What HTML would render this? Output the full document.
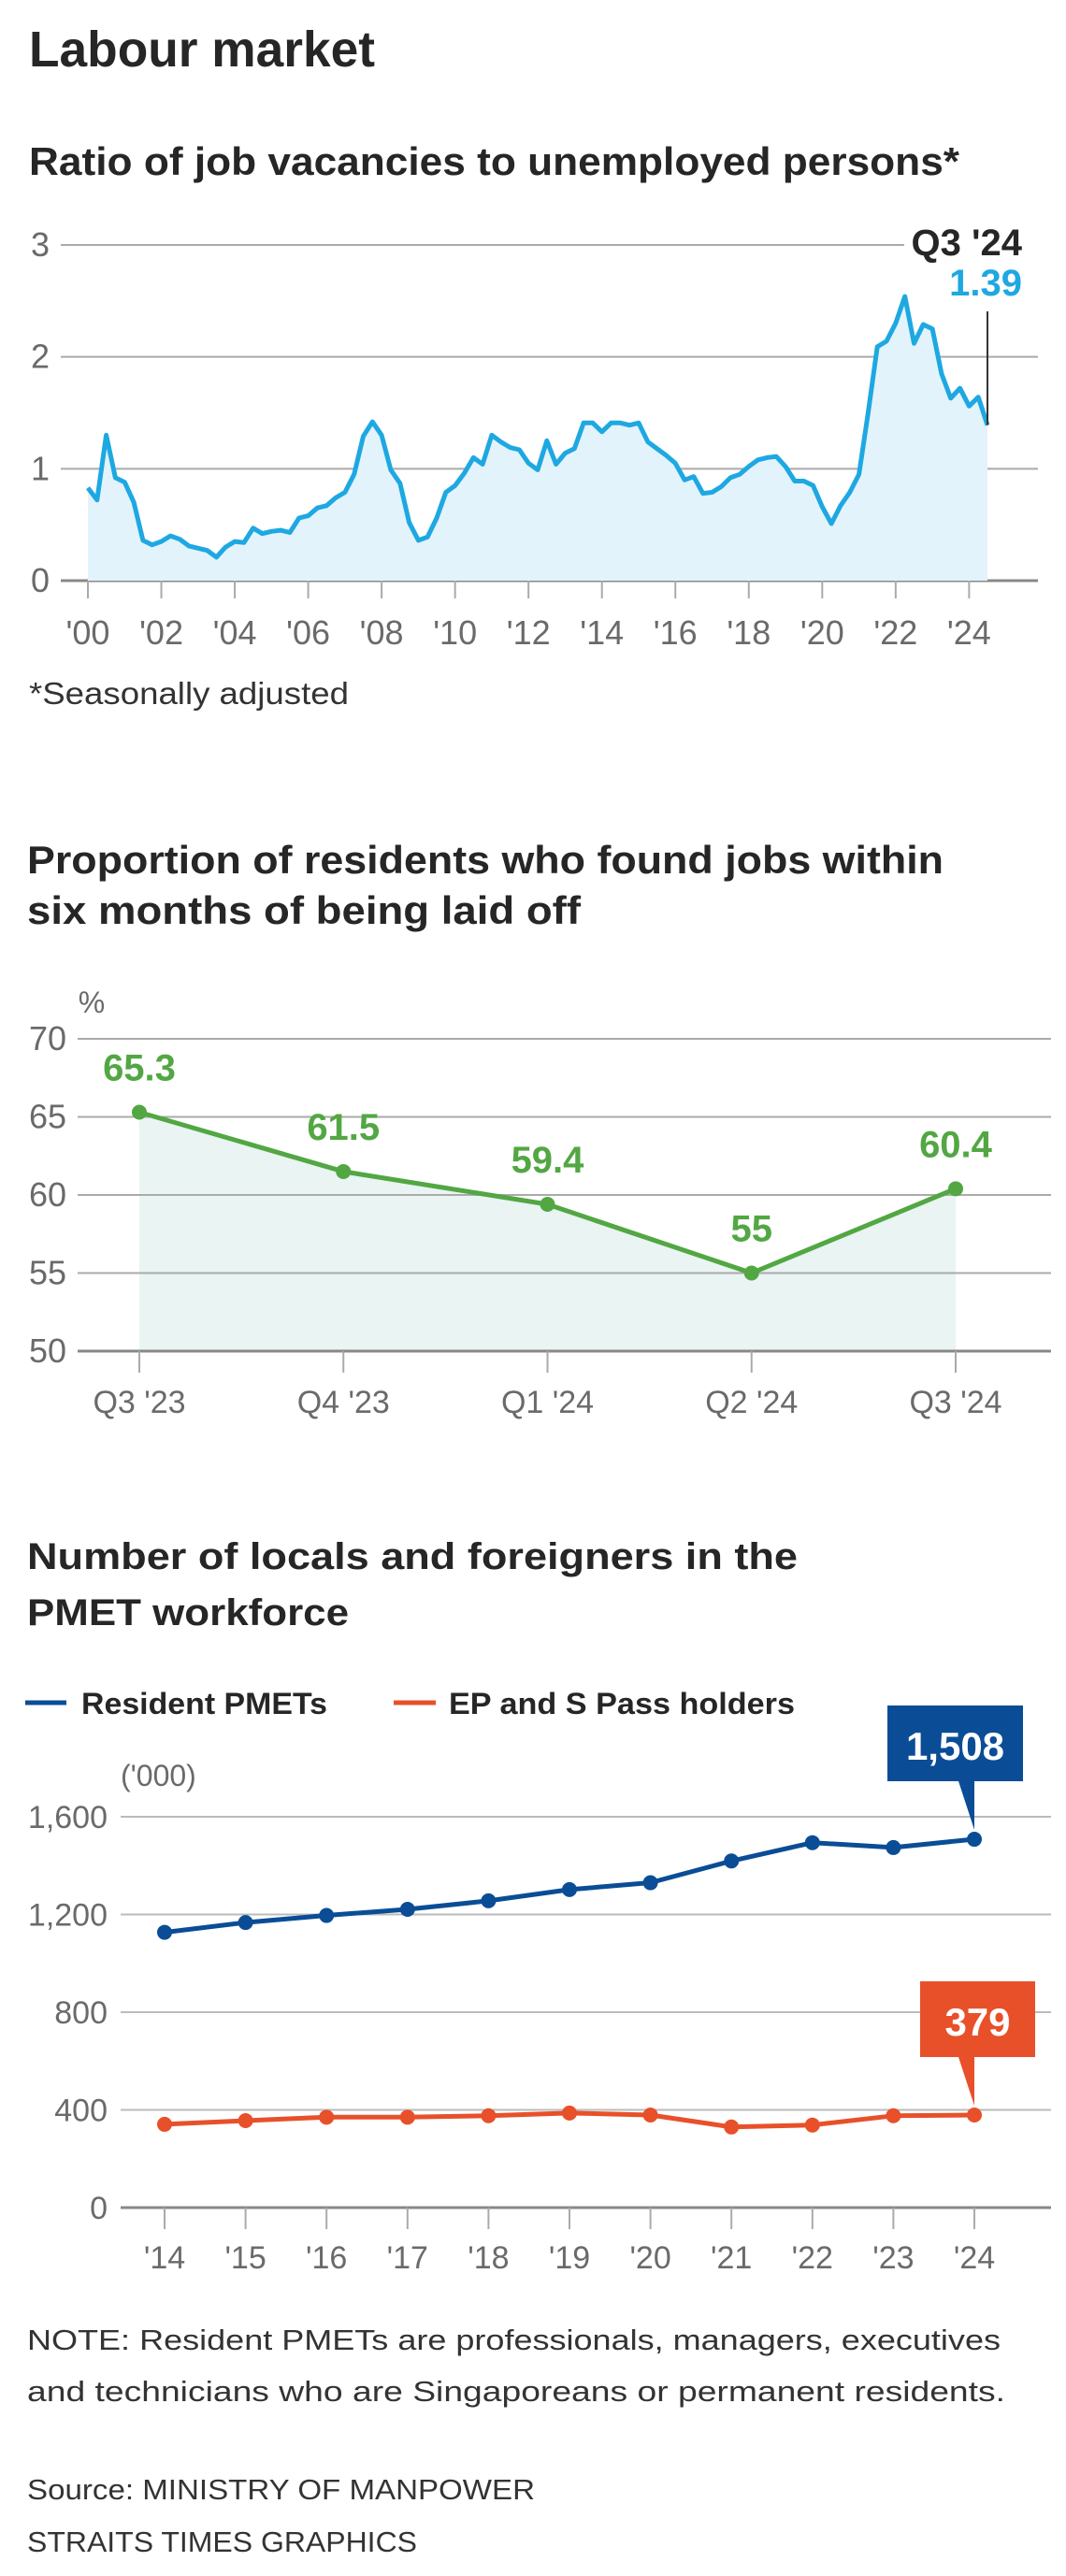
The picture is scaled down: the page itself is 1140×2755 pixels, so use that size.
<!DOCTYPE html>
<html><head><meta charset="utf-8"><style>
html,body{margin:0;padding:0;background:#fff;}
svg{display:block;}
.h{font-family:"Liberation Sans Narrow","Liberation Sans",sans-serif;font-weight:bold;fill:#262626;}
.ax{font-family:"Liberation Sans Narrow","Liberation Sans",sans-serif;fill:#6a6a6a;}
.tx{font-family:"Liberation Sans",sans-serif;fill:#333;}
</style></head><body>
<svg id="root" width="1140" height="2755" viewBox="0 0 1140 2755" xmlns="http://www.w3.org/2000/svg">
<text class="h" x="31" y="71" font-size="54" textLength="370" lengthAdjust="spacingAndGlyphs">Labour market</text>
<text class="h" x="31" y="187" font-size="42" textLength="995" lengthAdjust="spacingAndGlyphs">Ratio of job vacancies to unemployed persons*</text>
<g id="c1"></g>
<text class="tx" x="31" y="753" font-size="33" textLength="342" lengthAdjust="spacingAndGlyphs">*Seasonally adjusted</text>

<text class="h" x="29" y="934" font-size="42" textLength="980" lengthAdjust="spacingAndGlyphs">Proportion of residents who found jobs within</text>
<text class="h" x="29" y="988" font-size="42" textLength="592" lengthAdjust="spacingAndGlyphs">six months of being laid off</text>
<g id="c2"></g>

<text class="h" x="29" y="1678" font-size="40" textLength="824" lengthAdjust="spacingAndGlyphs" style="font-family:'Liberation Sans',sans-serif">Number of locals and foreigners in the</text>
<text class="h" x="29" y="1738" font-size="40" textLength="344" lengthAdjust="spacingAndGlyphs" style="font-family:'Liberation Sans',sans-serif">PMET workforce</text>
<g>
<line x1="27" y1="1821" x2="71" y2="1821" stroke="#0a4d96" stroke-width="5"/>
<text class="h" x="87" y="1833" font-size="32" textLength="263" lengthAdjust="spacingAndGlyphs" style="font-family:'Liberation Sans',sans-serif">Resident PMETs</text>
<line x1="421" y1="1821" x2="466" y2="1821" stroke="#e8502a" stroke-width="5"/>
<text class="h" x="480" y="1833" font-size="32" textLength="370" lengthAdjust="spacingAndGlyphs" style="font-family:'Liberation Sans',sans-serif">EP and S Pass holders</text>
</g>
<g id="c3"></g>

<text class="tx" x="29" y="2513" font-size="31" textLength="1041" lengthAdjust="spacingAndGlyphs">NOTE: Resident PMETs are professionals, managers, executives</text>
<text class="tx" x="29" y="2568" font-size="31" textLength="1046" lengthAdjust="spacingAndGlyphs">and technicians who are Singaporeans or permanent residents.</text>
<text class="tx" x="29" y="2673" font-size="31" textLength="543" lengthAdjust="spacingAndGlyphs">Source: MINISTRY OF MANPOWER</text>
<text class="tx" x="29" y="2729" font-size="31" textLength="417" lengthAdjust="spacingAndGlyphs">STRAITS TIMES GRAPHICS</text>
</svg>
<script>
// ---- Chart 1 data (quarterly, 2000Q1 - 2024Q3)
const ratioValues = [0.83,0.72,1.30,0.92, 0.88,0.70,0.36,0.32, 0.35,0.40,0.37,0.31, 0.29,0.27,0.21,0.30,
 0.35,0.34,0.47,0.42, 0.44,0.45,0.43,0.56, 0.58,0.65,0.67,0.74, 0.79,0.95,1.29,1.42,
 1.30,0.99,0.87,0.52, 0.36,0.39,0.56,0.79, 0.85,0.96,1.10,1.04, 1.30,1.24,1.19,1.17,
 1.05,0.99,1.25,1.04, 1.14,1.18,1.41,1.41, 1.33,1.41,1.41,1.39, 1.41,1.24,1.18,1.12,
 1.05,0.90,0.93,0.78, 0.79,0.84,0.92,0.95, 1.02,1.08,1.10,1.11, 1.02,0.89,0.89,0.85,
 0.66,0.51,0.67,0.79, 0.95,1.50,2.09,2.14, 2.30,2.54,2.12,2.29, 2.25,1.85,1.63,1.72,
 1.56,1.64,1.39];
const ratioYTicks = [0,1,2,3];
const ratioXTickLabels = ["'00","'02","'04","'06","'08","'10","'12","'14","'16","'18","'20","'22","'24"];
const ratioLatestLabel = "Q3 '24";
const ratioLatestValue = "1.39";

// ---- Chart 2 data
const quarterCats = ["Q3 '23","Q4 '23","Q1 '24","Q2 '24","Q3 '24"];
const reemployValues = [65.3,61.5,59.4,55,60.4];
const reemployYTicks = [50,55,60,65,70];

// ---- Chart 3 data
const yearCats = ["'14","'15","'16","'17","'18","'19","'20","'21","'22","'23","'24"];
const residentValues = [1127,1167,1196,1221,1256,1302,1330,1419,1494,1474,1508];
const epValues = [341,356,370,370,376,387,379,330,338,376,379];
const workforceYTicks = [0,400,800,1200,1600];
const workforceYTickLabels = ["0","400","800","1,200","1,600"];

const NS="http://www.w3.org/2000/svg";
function mk(parent,tag,attrs,text){const e=document.createElementNS(NS,tag);for(const k in attrs)e.setAttribute(k,attrs[k]);if(text!==undefined)e.textContent=text;parent.appendChild(e);return e;}

// ---------- Chart 1
(function(){
 const g=document.getElementById('c1');
 const x=i=>94+i*(1056-94)/98;
 const y=v=>621-v*(621-262)/3;
 ratioYTicks.forEach(t=>{
  const ln=mk(g,'line',{x1:65,x2:t===3?967:1110,y1:y(t),y2:y(t),stroke:t===0?'#888':'#aaa','stroke-width':t===0?3:2});
  
  
  const tl=mk(g,'text',{x:43,y:y(t)+12,'font-size':36,'text-anchor':'middle',class:'ax'},String(t));
  
  
 });
 ratioXTickLabels.forEach((lab,k)=>{
  const xx=x(k*8);
  const tk=mk(g,'line',{x1:xx,x2:xx,y1:621,y2:640,stroke:'#aaa','stroke-width':2});
  
  
  const tl=mk(g,'text',{x:xx,y:689,'font-size':36,'text-anchor':'middle',class:'ax'},lab);
  
  
 });
 let d='';ratioValues.forEach((v,i)=>{d+=(i?'L':'M')+x(i).toFixed(1)+','+y(v).toFixed(1);});
 const area=mk(g,'path',{d:d+'L'+x(ratioValues.length-1)+','+y(0)+'L'+x(0)+','+y(0)+'Z',fill:'#e3f3fb'});
 
 
 // redraw gridlines 1,2 lightly over area
 const ln=mk(g,'path',{d:d,fill:'none',stroke:'#1ea8e2','stroke-width':5,'stroke-linejoin':'round'});
 
 
 const li=ratioValues.length-1;
 const ld=mk(g,'line',{x1:x(li),x2:x(li),y1:333,y2:y(ratioValues[li]),stroke:'#333','stroke-width':2});
 
 
 const a=mk(g,'text',{x:1093,y:273,'font-size':40,'text-anchor':'end',class:'h',fill:'#1a1a1a'},ratioLatestLabel);
 
 
 const b=mk(g,'text',{x:1093,y:316,'font-size':40,'text-anchor':'end',class:'h',style:'fill:#1ea8e2'},ratioLatestValue);
 
 
})();

// ---------- Chart 2
(function(){
 const g=document.getElementById('c2');
 const x=i=>149+i*(1022-149)/4;
 const y=v=>1445-(v-50)*(1445-1111)/20;
 const pc=mk(g,'text',{x:98,y:1083,'font-size':32,'text-anchor':'middle',class:'ax'},'%');
 
 
 let d='';reemployValues.forEach((v,i)=>{d+=(i?'L':'M')+x(i)+','+y(v);});
 const area=mk(g,'path',{d:d+'L'+x(4)+','+y(50)+'L'+x(0)+','+y(50)+'Z',fill:'#e9f4f3'});
 
 
 reemployYTicks.forEach(t=>{
  const ln=mk(g,'line',{x1:83,x2:1124,y1:y(t),y2:y(t),stroke:t===50?'#888':'#aaa','stroke-width':t===50?3:2});
  
  
  const tl=mk(g,'text',{x:51,y:y(t)+12,'font-size':36,'text-anchor':'middle',class:'ax'},String(t));
  
  
 });
 quarterCats.forEach((c,i)=>{
  const tk=mk(g,'line',{x1:x(i),x2:x(i),y1:1445,y2:1468,stroke:'#aaa','stroke-width':2});
  
  
  const tl=mk(g,'text',{x:x(i),y:1511,'font-size':34,'text-anchor':'middle',class:'ax'},c);
  
  
 });
 const ln=mk(g,'path',{d:d,fill:'none',stroke:'#52a743','stroke-width':5,'stroke-linejoin':'round'});
 
 
 reemployValues.forEach((v,i)=>{
  const c=mk(g,'circle',{cx:x(i),cy:y(v),r:8,fill:'#52a743'});
  
  
  const t=mk(g,'text',{x:x(i),y:y(v)-34,'font-size':40,'text-anchor':'middle',class:'h',style:'fill:#52a743'},String(v));
  
  
 });
})();

// ---------- Chart 3
(function(){
 const g=document.getElementById('c3');
 const x=i=>176+i*(1042-176)/10;
 const y=v=>2361-v*(2361-1943)/1600;
 const u=mk(g,'text',{x:129,y:1910,'font-size':32,class:'ax'},"('000)");
 
 
 workforceYTicks.forEach((t,k)=>{
  const ln=mk(g,'line',{x1:129,x2:1124,y1:y(t),y2:y(t),stroke:t===0?'#888':'#bbb','stroke-width':t===0?3:2});
  
  
  const tl=mk(g,'text',{x:115,y:y(t)+12,'font-size':34,'text-anchor':'end',class:'ax'},workforceYTickLabels[k]);
  
  
 });
 yearCats.forEach((c,i)=>{
  const tk=mk(g,'line',{x1:x(i),x2:x(i),y1:2361,y2:2384,stroke:'#aaa','stroke-width':2});
  
  
  const tl=mk(g,'text',{x:x(i),y:2426,'font-size':34,'text-anchor':'middle',class:'ax'},c);
  
  
 });
 function series(vals,col,name){
  let d='';vals.forEach((v,i)=>{d+=(i?'L':'M')+x(i)+','+y(v).toFixed(1);});
  const ln=mk(g,'path',{d:d,fill:'none',stroke:col,'stroke-width':5,'stroke-linejoin':'round'});
  
  
  vals.forEach((v,i)=>{
   const c=mk(g,'circle',{cx:x(i),cy:y(v),r:8,fill:col});
   
   
  });
 }
 series(residentValues,'#0a4d96','resident');
 series(epValues,'#e8502a','ep');
 function callout(vals,col,name,bx,bw){
  const li=vals.length-1,px=x(li),py=y(vals[li]);
  const by=py-143,bh=81;
  const p=mk(g,'path',{d:`M${bx},${by}h${bw}v${bh}H${px}L${px},${py-10}L${px-17},${by+bh}H${bx}Z`,fill:col});
  
  
  const t=mk(g,'text',{x:bx+bw/2,y:by+58,'font-size':42,'text-anchor':'middle',class:'h',style:"fill:#fff;font-family:'Liberation Sans',sans-serif"},vals[li].toLocaleString('en-US'));
  
  
 }
 callout(residentValues,'#0a4d96','resident',949,145);
 callout(epValues,'#e8502a','ep',984,123);
})();
</script>
</body></html>
